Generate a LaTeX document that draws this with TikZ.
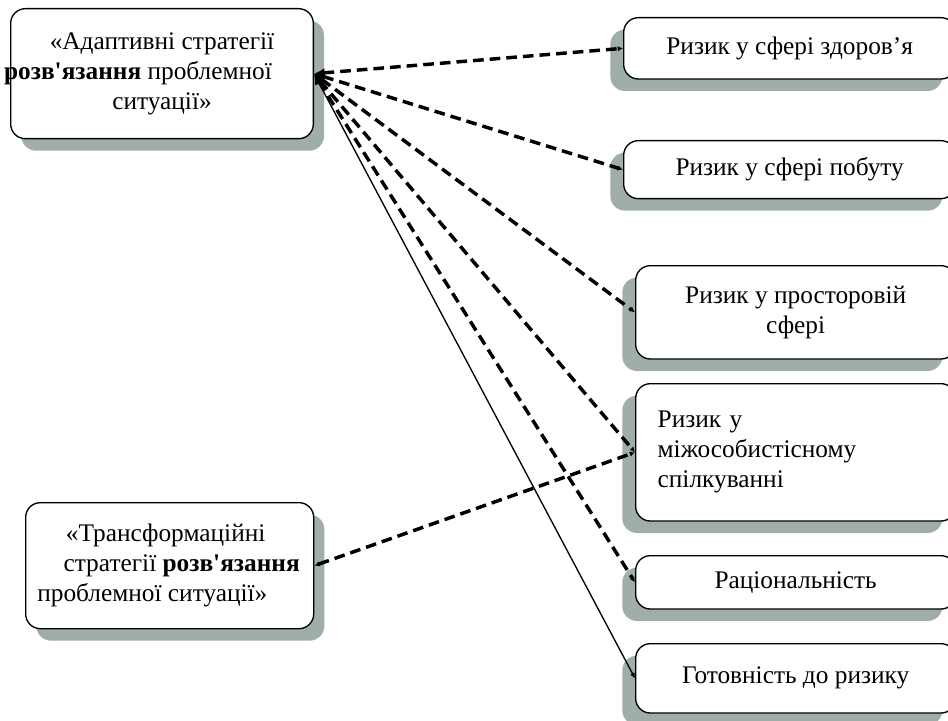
\documentclass[tikz,border=0pt]{standalone}
\usepackage{fontspec}
\setmainfont{Liberation Serif}
\usetikzlibrary{arrows.meta,shadows}
\definecolor{shadegray}{RGB}{160,174,168}
\newcommand{\nudge}[2]{\makebox[0pt]{\hspace*{#1}#2\hspace*{-#1}}}

\begin{document}
\begin{tikzpicture}[x=0.75pt,y=-0.75pt,
    box/.style={draw,line width=1pt,rounded corners=11pt,fill=white,anchor=north west,
        inner sep=0pt,font={\fontsize{19}{22.5}\selectfont},align=center},
    leftbox/.style={box,general shadow={shadow xshift=8pt,shadow yshift=-9pt,fill=shadegray}},
    rightbox/.style={box,general shadow={shadow xshift=-10pt,shadow yshift=-9pt,fill=shadegray}},
    link/.style={line width=2.6pt,dash pattern=on 8pt off 4.5pt},
    bigtip/.tip={Latex[length=8pt,width=7pt]},
    smalltip/.tip={Latex[length=4pt,width=4pt]}]
    \useasboundingbox (0,0) rectangle (948,720);
    \clip (0,0) rectangle (948,720);
    \node[leftbox,minimum width=227pt,minimum height=97.5pt] (adapt) at (10,8)
        {«Адаптивні стратегії\\\nudge{-18pt}{\textbf{розв\textquotesingle язання} проблемної}\\ситуації»};
    \node[leftbox,minimum width=216pt,minimum height=94.5pt] (trans) at (25,502)
        {\nudge{-3pt}{«Трансформаційні}\\\nudge{9pt}{стратегії \textbf{розв\textquotesingle язання}}\\\nudge{-13pt}{проблемної ситуації»}};
    \node[rightbox,minimum width=249pt,minimum height=46pt] (health) at (623,17) {Ризик у сфері здоров’я};
    \node[rightbox,minimum width=249pt,minimum height=43.5pt] (life) at (623,140) {Ризик у сфері побуту};
    \node[rightbox,minimum width=240pt,minimum height=70pt] (spatial) at (635,265) {Ризик у просторовій\\сфері};
    \node[rightbox,minimum height=103pt,text width=207pt,inner xsep=16.5pt,align=left] (inter) at (635,383)
        {Ризик у\\міжособистісному\\спілкуванні};
    \node[rightbox,minimum width=240pt,minimum height=40pt] (rational) at (635,555) {Раціональність};
    \node[rightbox,minimum width=240pt,minimum height=52pt] (ready) at (635,643) {Готовність до ризику};
    \draw[link,bigtip-smalltip] (adapt.east) -- (health.west);
    \draw[link,bigtip-smalltip] (adapt.east) -- (life.west);
    \draw[link,bigtip-smalltip] (adapt.east) -- (spatial.west);
    \draw[link,bigtip-smalltip] (adapt.east) -- (inter.west);
    \draw[link,bigtip-smalltip] (adapt.east) -- (rational.west);
    \draw[line width=1pt,bigtip-smalltip] (adapt.east) -- (ready.west);
    \draw[link,smalltip-smalltip] (trans.east) -- (inter.west);
\end{tikzpicture}
\end{document}
